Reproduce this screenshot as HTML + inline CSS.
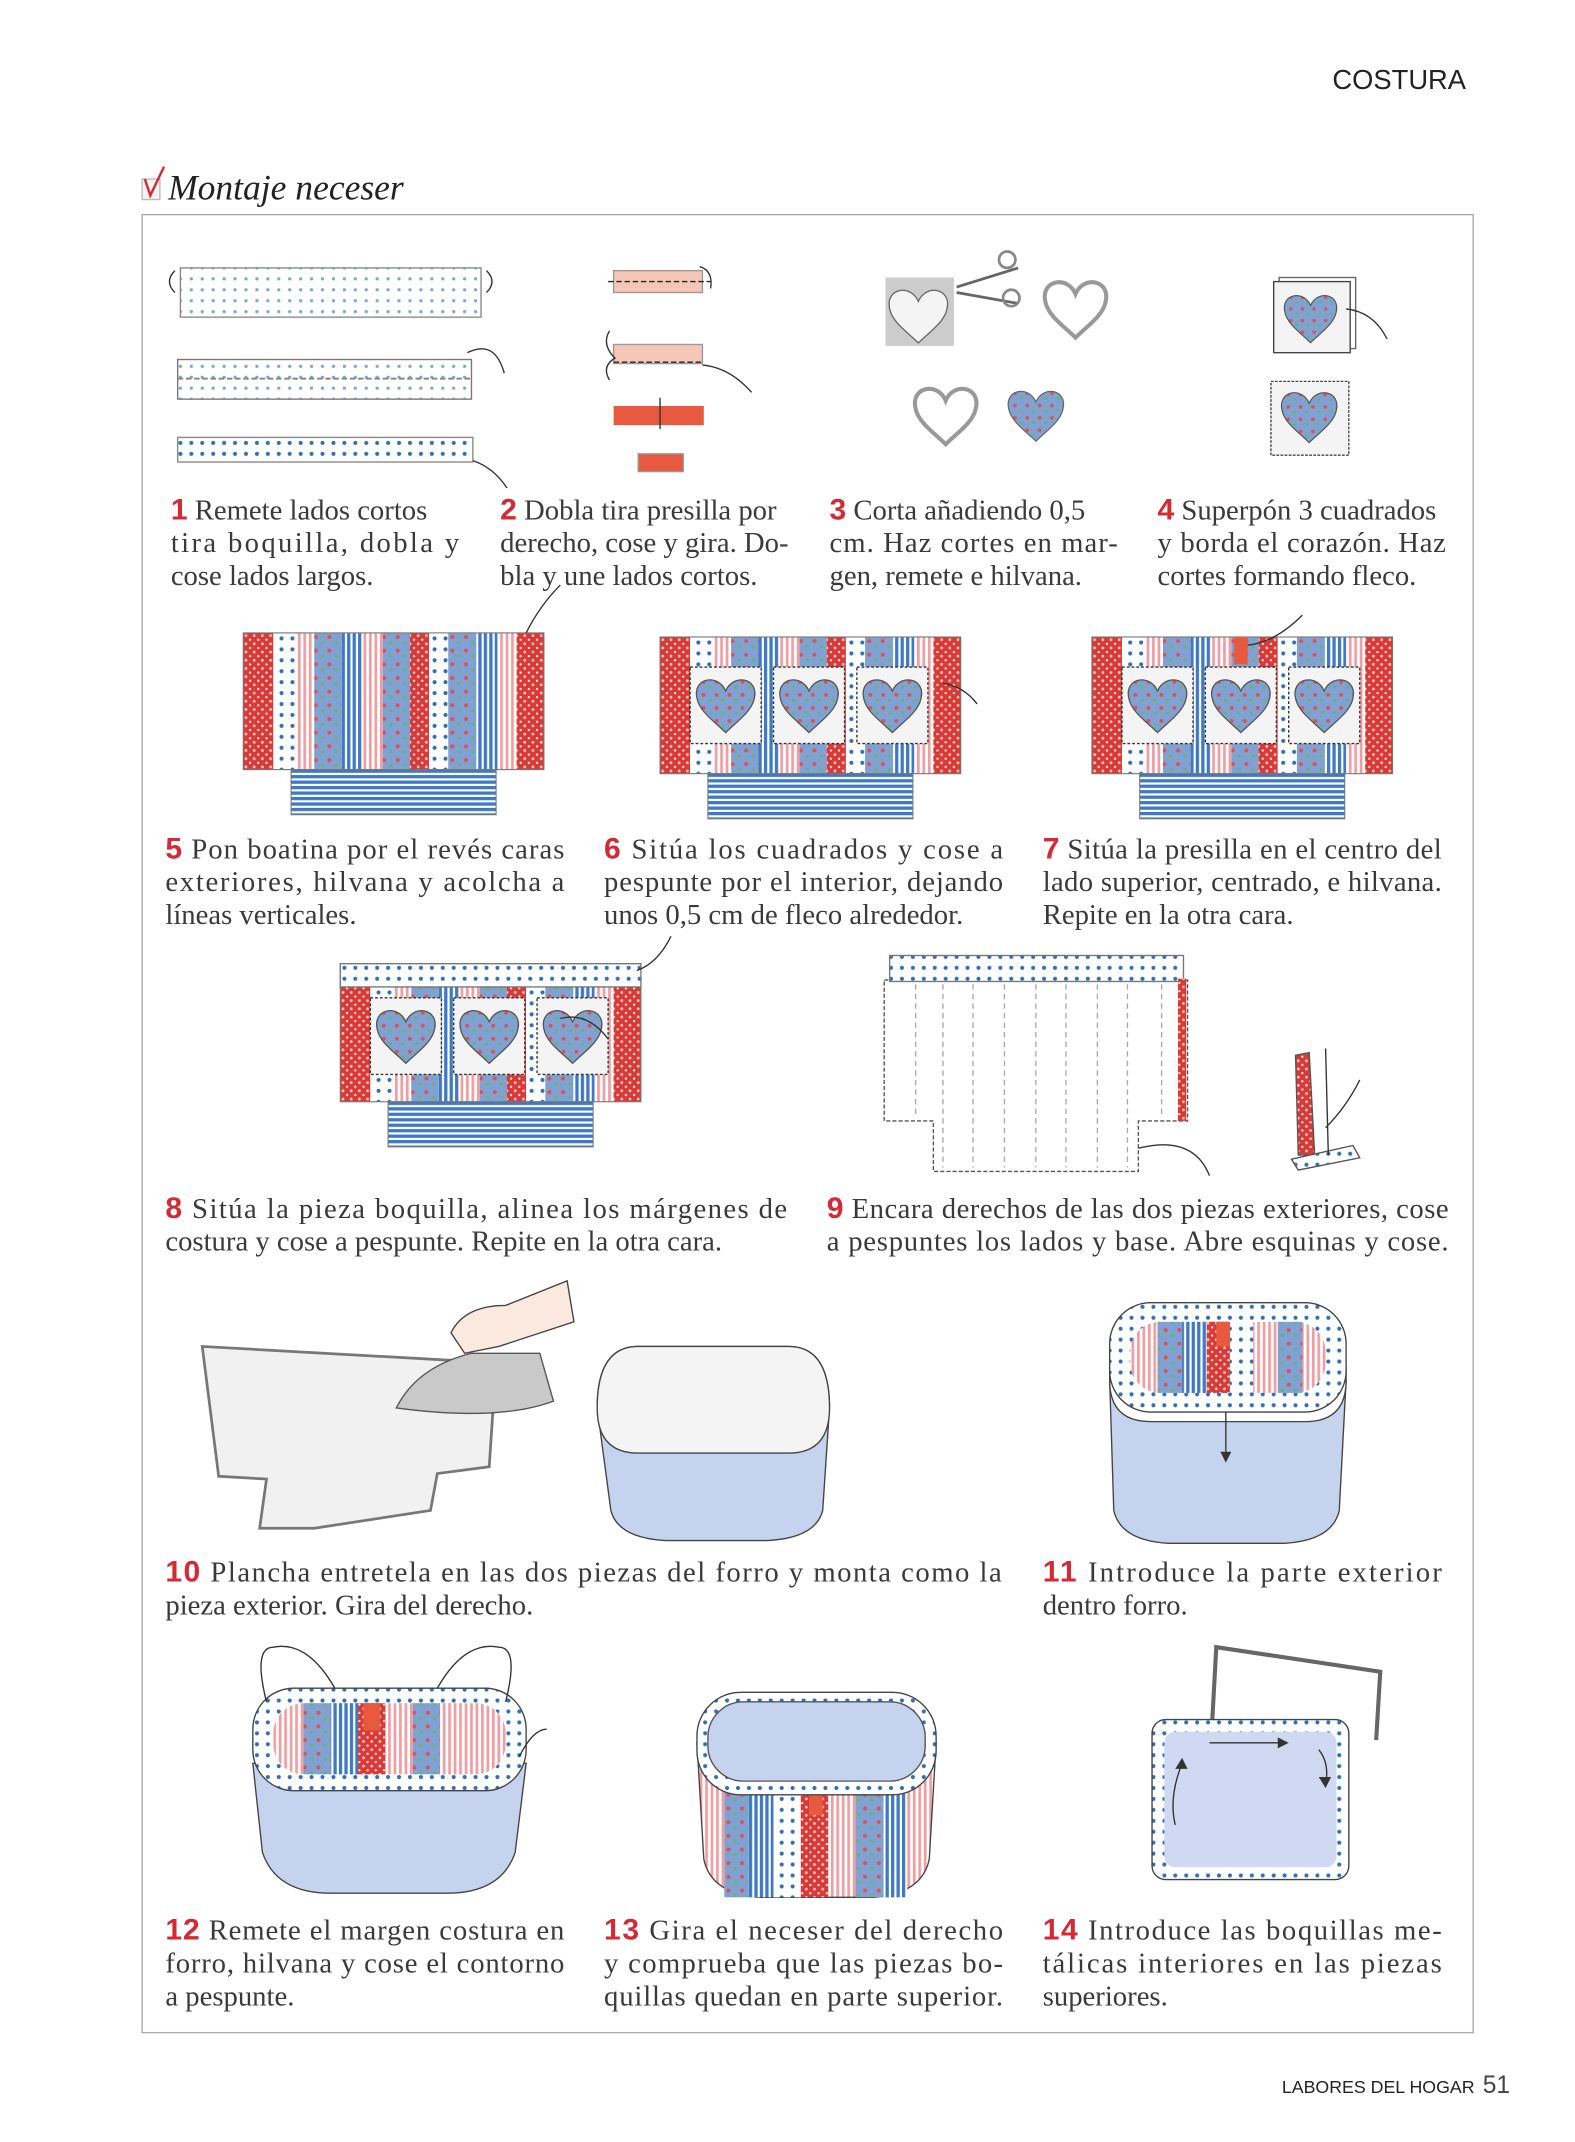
<!DOCTYPE html>
<html><head><meta charset="utf-8"><style>
html,body{margin:0;padding:0;background:#fff;}
svg{display:block;}
.cap{font-family:"Liberation Serif","DejaVu Serif",serif;font-size:21px;fill:#3a3a3a;}
.n{font-family:"Liberation Sans",sans-serif;font-weight:bold;fill:#d42a35;font-size:22px;}
</style></head><body>
<svg width="1575" height="2142" viewBox="0 0 1152.5 1567" preserveAspectRatio="none" xmlns="http://www.w3.org/2000/svg">
<defs>
<pattern id="dots" width="8" height="8" patternUnits="userSpaceOnUse"><rect width="8" height="8" fill="#fff"/><circle cx="4" cy="4" r="1.2" fill="#7aa6d6"/></pattern>
<pattern id="dots2" width="8" height="8" patternUnits="userSpaceOnUse"><rect width="8" height="8" fill="#fff"/><circle cx="4" cy="4" r="1.5" fill="#2f6fb5"/></pattern>
<pattern id="red" width="6" height="6" patternUnits="userSpaceOnUse"><rect width="6" height="6" fill="#d93a38"/><circle cx="2" cy="2" r="1" fill="#f6c6c0"/><circle cx="5" cy="5" r="0.8" fill="#fff"/></pattern>
<pattern id="pink" width="4" height="4" patternUnits="userSpaceOnUse"><rect width="4" height="4" fill="#fff"/><rect width="2" height="4" fill="#ef9ea2"/></pattern>
<pattern id="bflor" width="10" height="10" patternUnits="userSpaceOnUse"><rect width="10" height="10" fill="#7fa2d2"/><circle cx="3" cy="3" r="1.5" fill="#e0504e"/><circle cx="8" cy="7" r="1.2" fill="#6fb06a"/></pattern>
<pattern id="bstr" width="4" height="4" patternUnits="userSpaceOnUse"><rect width="4" height="4" fill="#fff"/><rect width="2.4" height="4" fill="#3f79c4"/></pattern>
<pattern id="hstr" width="4" height="4" patternUnits="userSpaceOnUse"><rect width="4" height="4" fill="#fff"/><rect width="4" height="2.4" fill="#3f79c4"/></pattern>
<path id="heart" d="M0,-10 C-6,-24 -26,-20 -22,-4 C-20,6 -8,14 0,22 C8,14 20,6 22,-4 C26,-20 6,-24 0,-10Z"/>
<g id="panel">
<rect x="0" y="0" width="22" height="100" fill="url(#red)"/>
<rect x="22" y="0" width="16" height="100" fill="url(#dots2)"/>
<rect x="38" y="0" width="14" height="100" fill="url(#pink)"/>
<rect x="52" y="0" width="20" height="100" fill="url(#bflor)"/>
<rect x="72" y="0" width="16" height="100" fill="url(#bstr)"/>
<rect x="88" y="0" width="14" height="100" fill="url(#pink)"/>
<rect x="102" y="0" width="20" height="100" fill="url(#bflor)"/>
<rect x="122" y="0" width="14" height="100" fill="url(#red)"/>
<rect x="136" y="0" width="14" height="100" fill="url(#dots2)"/>
<rect x="150" y="0" width="20" height="100" fill="url(#bflor)"/>
<rect x="170" y="0" width="16" height="100" fill="url(#bstr)"/>
<rect x="186" y="0" width="14" height="100" fill="url(#pink)"/>
<rect x="200" y="0" width="20" height="100" fill="url(#red)"/>
<rect x="0" y="0" width="220" height="100" fill="none" stroke="#777" stroke-width="0.8"/>
<rect x="35" y="100" width="150" height="33" fill="url(#hstr)" stroke="#777" stroke-width="0.8"/>
</g>
<g id="sq">
<rect x="0" y="0" width="52" height="56" fill="#f4f4f4" stroke="#333" stroke-dasharray="2 1.5"/>
<use href="#heart" transform="translate(26,27) scale(0.95)" fill="url(#bflor)" stroke="#555" stroke-width="1"/>
</g>
</defs>

<!-- header -->
<text x="975" y="65" font-family="Liberation Sans,sans-serif" font-size="20" fill="#222">COSTURA</text>
<rect x="104" y="131" width="13" height="15" fill="#f3f3f3" stroke="#bbb"/>
<path d="M106,131 L110,143 L120,122" stroke="#d42a35" stroke-width="1.8" fill="none"/>
<text x="123" y="146" font-family="Liberation Serif,serif" font-style="italic" font-size="26" fill="#222">Montaje neceser</text>
<rect x="104" y="157" width="974" height="1330" fill="none" stroke="#aaa" stroke-width="1"/>

<!-- step 1 -->
<rect x="132" y="196" width="220" height="36" fill="url(#dots)" stroke="#888"/>
<path d="M128,198 q-8,8 0,16 M356,198 q8,8 0,16" stroke="#333" fill="none"/>
<rect x="130" y="263" width="215" height="29" fill="url(#dots)" stroke="#777"/>
<line x1="130" y1="277" x2="345" y2="277" stroke="#888" stroke-dasharray="4 2" stroke-width="1.5"/>
<path d="M342,258 q20,-10 27,15" stroke="#333" fill="none"/>
<rect x="130" y="320" width="216" height="18" fill="url(#dots2)" stroke="#888"/>
<path d="M346,337 q15,5 25,20" stroke="#333" fill="none"/>

<!-- step 2 -->
<rect x="449" y="198" width="65" height="16" fill="#f6c7b7" stroke="#999"/>
<line x1="445" y1="206" x2="520" y2="206" stroke="#222" stroke-dasharray="4 2"/>
<path d="M512,195 q10,3 8,16" stroke="#333" fill="none"/>
<rect x="449" y="252" width="65" height="14" fill="#f6c7b7" stroke="#999"/>
<line x1="449" y1="265" x2="514" y2="265" stroke="#222" stroke-dasharray="4 2"/>
<path d="M446,242 q-6,10 4,20 q-10,6 -4,16 M514,267 q20,2 36,20" stroke="#333" fill="none"/>
<rect x="449" y="297" width="66" height="14" fill="#e85a40"/>
<line x1="483" y1="291" x2="483" y2="314" stroke="#333"/>
<rect x="467" y="332" width="33" height="13" fill="#e85a40" stroke="#999"/>

<!-- step 3 -->
<rect x="648" y="203" width="50" height="50" fill="#ccc"/>
<use href="#heart" transform="translate(672,230) scale(0.95)" fill="#f4f4f4" stroke="#666"/>
<path d="M700,210 L745,196 M700,214 L745,222" stroke="#666" stroke-width="2"/>
<circle cx="737" cy="190" r="6" fill="none" stroke="#888" stroke-width="2"/><circle cx="740" cy="218" r="6" fill="none" stroke="#888" stroke-width="2"/>
<use href="#heart" transform="translate(787,225) scale(1)" fill="#fff" stroke="#999" stroke-width="3"/>
<use href="#heart" transform="translate(692,303) scale(1)" fill="#fff" stroke="#999" stroke-width="3"/>
<use href="#heart" transform="translate(758,303) scale(0.9)" fill="url(#bflor)" stroke="#666"/>

<!-- step 4 -->
<rect x="936" y="203" width="56" height="52" fill="#fff" stroke="#666"/>
<rect x="932" y="206" width="56" height="52" fill="#f4f4f4" stroke="#444"/>
<use href="#heart" transform="translate(959,232) scale(0.85)" fill="url(#bflor)" stroke="#555"/>
<path d="M985,226 q20,2 30,22" stroke="#333" fill="none"/>
<rect x="930" y="279" width="57" height="54" fill="#f4f4f4" stroke="#444" stroke-dasharray="2 1"/>
<use href="#heart" transform="translate(958,304) scale(0.9)" fill="url(#bflor)" stroke="#555"/>

<!-- step 5 -->
<use href="#panel" transform="translate(178,463)"/>
<path d="M385,463 q10,-20 25,-35" stroke="#333" fill="none"/>
<!-- step 6 -->
<use href="#panel" transform="translate(483,466)"/>
<use href="#sq" transform="translate(505,488)"/><use href="#sq" transform="translate(566,488)"/><use href="#sq" transform="translate(627,488)"/>
<path d="M690,500 q15,2 25,15" stroke="#333" fill="none"/>
<!-- step 7 -->
<use href="#panel" transform="translate(799,466)"/>
<use href="#sq" transform="translate(821,488)"/><use href="#sq" transform="translate(882,488)"/><use href="#sq" transform="translate(943,488)"/>
<rect x="903" y="466" width="10" height="20" fill="#e85a40"/>
<path d="M913,472 q20,-2 40,-22" stroke="#333" fill="none"/>
<!-- step 8 -->
<use href="#panel" transform="translate(249,706)"/>
<rect x="249" y="705" width="220" height="17" fill="url(#dots2)" stroke="#777"/>
<use href="#sq" transform="translate(271,730)"/><use href="#sq" transform="translate(332,730)"/><use href="#sq" transform="translate(393,730)"/>
<path d="M466,710 q15,-5 25,-25 M410,745 q20,-5 35,15" stroke="#333" fill="none"/>

<!-- step 9 -->
<path d="M647,717 L869,717 L869,820 L833,820 L833,857 L683,857 L683,820 L647,820 Z" fill="#fff" stroke="#555" stroke-dasharray="3 1.5"/>
<g stroke="#aaa" stroke-dasharray="4 3">
<line x1="670" y1="720" x2="670" y2="817"/><line x1="690" y1="720" x2="690" y2="854"/><line x1="712" y1="720" x2="712" y2="854"/><line x1="735" y1="720" x2="735" y2="854"/><line x1="758" y1="720" x2="758" y2="854"/><line x1="780" y1="720" x2="780" y2="854"/><line x1="803" y1="720" x2="803" y2="854"/><line x1="825" y1="720" x2="825" y2="854"/><line x1="850" y1="720" x2="850" y2="817"/>
</g>
<rect x="651" y="699" width="215" height="19" fill="url(#dots2)" stroke="#777"/>
<rect x="862" y="716" width="6" height="104" fill="url(#red)"/>
<path d="M833,840 q40,-10 52,20" stroke="#333" fill="none"/>
<path d="M948,772 L958,770 L962,845 L950,845 Z" fill="url(#red)" stroke="#555"/>
<path d="M945,848 L990,838 L995,847 L950,856 Z" fill="url(#dots2)" stroke="#555"/>
<path d="M970,767 L972,845 M995,790 q-10,20 -25,35" stroke="#333" fill="none"/>

<!-- step 10 -->
<path d="M148,985 L363,997 L358,1073 L320,1078 L315,1105 L230,1118 L190,1118 L195,1082 L160,1080 Z" fill="#f1f1f1" stroke="#777" stroke-width="2"/>
<path d="M290,1030 q15,-30 55,-40 l50,0 l10,35 q-40,15 -115,5 Z" fill="#c9c9c9" stroke="#555"/>
<path d="M330,975 q10,-20 40,-20 l45,-18 l5,30 l-55,18 l-25,5 z" fill="#fbe8df" stroke="#444"/>
<path d="M437,1030 q0,-45 30,-45 l110,0 q30,0 30,45 l-5,75 q-5,20 -40,22 l-75,0 q-35,-2 -40,-22 z" fill="#c5d3ef" stroke="#444"/>
<path d="M437,1030 q0,-45 30,-45 l110,0 q30,0 30,45 q0,33 -30,33 l-110,0 q-30,0 -30,-33z" fill="#f4f4f4" stroke="#444"/>

<!-- step 11 -->
<path d="M812,1010 l173,0 l-5,95 q-5,22 -40,24 l-85,0 q-35,-2 -40,-24 z" fill="#c5d3ef" stroke="#444"/>
<path d="M812,1010 l0,-10 l173,0 l0,10 q0,30 -30,30 l-113,0 q-30,0 -30,-30z" fill="#fff" stroke="#444"/>
<rect x="812" y="953" width="173" height="80" rx="30" fill="url(#dots2)" stroke="#444"/>
<rect x="827" y="967" width="143" height="52" rx="22" fill="url(#pink)"/>
<rect x="847" y="967" width="18" height="52" fill="url(#bflor)"/><rect x="865" y="967" width="18" height="52" fill="url(#bstr)"/><rect x="883" y="967" width="17" height="52" fill="url(#red)"/><rect x="900" y="967" width="17" height="52" fill="url(#dots2)"/><rect x="935" y="967" width="18" height="52" fill="url(#bflor)"/>
<rect x="890" y="967" width="10" height="18" fill="#e85a40"/>
<line x1="897" y1="1033" x2="897" y2="1068" stroke="#333"/><path d="M893,1062 l4,8 l4,-8z" fill="#333"/>

<!-- step 12 -->
<path d="M185,1290 l200,0 l-8,65 q-10,30 -50,30 l-85,0 q-40,0 -50,-30 z" fill="#c5d3ef" stroke="#444"/>
<rect x="185" y="1235" width="200" height="75" rx="30" fill="url(#dots2)" stroke="#444"/>
<rect x="200" y="1246" width="170" height="52" rx="22" fill="url(#pink)"/>
<rect x="222" y="1246" width="20" height="52" fill="url(#bflor)"/><rect x="242" y="1246" width="20" height="52" fill="url(#bstr)"/><rect x="262" y="1246" width="20" height="52" fill="url(#red)"/><rect x="302" y="1246" width="20" height="52" fill="url(#bflor)"/><rect x="322" y="1246" width="16" height="52" fill="url(#pink)"/>
<rect x="266" y="1246" width="12" height="20" fill="#e85a40"/>
<path d="M195,1245 q-10,-40 5,-40 q25,-5 45,30 M370,1245 q10,-40 -5,-40 q-25,-5 -45,30 M380,1285 q10,-20 20,-20" stroke="#333" fill="none"/>

<!-- step 13 -->
<path d="M510,1275 l175,0 l-5,85 q-5,25 -40,28 l-85,0 q-35,-3 -40,-28 z" fill="url(#pink)" stroke="#444"/>
<rect x="530" y="1300" width="18" height="88" fill="url(#bflor)"/><rect x="548" y="1300" width="18" height="88" fill="url(#bstr)"/><rect x="566" y="1300" width="20" height="88" fill="url(#dots2)"/><rect x="586" y="1300" width="20" height="88" fill="url(#red)"/><rect x="626" y="1300" width="20" height="88" fill="url(#bflor)"/><rect x="646" y="1300" width="18" height="88" fill="url(#bstr)"/>
<rect x="592" y="1310" width="10" height="18" fill="#e85a40"/>
<rect x="510" y="1238" width="175" height="75" rx="32" fill="url(#dots2)" stroke="#444"/>
<rect x="518" y="1245" width="159" height="58" rx="26" fill="#c5d3ef" stroke="#555"/>

<!-- step 14 -->
<path d="M887,1260 l3,-55 l120,18 l-3,50" stroke="#666" stroke-width="3" fill="none"/>
<rect x="843" y="1258" width="144" height="117" rx="10" fill="url(#dots2)" stroke="#444"/>
<rect x="852" y="1267" width="126" height="99" rx="8" fill="#cfdaf2"/>
<path d="M885,1275 l55,0 M860,1335 q-5,-20 5,-45 M965,1280 q8,10 5,25" stroke="#333" fill="none"/>
<path d="M935,1271 l8,4 l-8,4z M965,1300 l5,8 l4,-8z M860,1294 l5,-8 l4,8z" fill="#333"/>

<!-- captions -->
<g class="cap">
<text x="125" y="380"><tspan class="n">1</tspan> Remete lados cortos</text>
<text x="125" y="404" textLength="211" lengthAdjust="spacing">tira boquilla, dobla y</text>
<text x="125" y="428">cose lados largos.</text>
<text x="366" y="380"><tspan class="n">2</tspan> Dobla tira presilla por</text>
<text x="366" y="404" textLength="211" lengthAdjust="spacing">derecho, cose y gira. Do-</text>
<text x="366" y="428">bla y une lados cortos.</text>
<text x="607" y="380"><tspan class="n">3</tspan> Corta añadiendo 0,5</text>
<text x="607" y="404" textLength="211" lengthAdjust="spacing">cm. Haz cortes en mar-</text>
<text x="607" y="428">gen, remete e hilvana.</text>
<text x="847" y="380"><tspan class="n">4</tspan> Superpón 3 cuadrados</text>
<text x="847" y="404" textLength="211" lengthAdjust="spacing">y borda el corazón. Haz</text>
<text x="847" y="428">cortes formando fleco.</text>

<text x="121" y="628" textLength="292" lengthAdjust="spacing"><tspan class="n">5</tspan> Pon boatina por el revés caras</text>
<text x="121" y="652" textLength="292" lengthAdjust="spacing">exteriores, hilvana y acolcha a</text>
<text x="121" y="676">líneas verticales.</text>
<text x="442" y="628" textLength="292" lengthAdjust="spacing"><tspan class="n">6</tspan> Sitúa los cuadrados y cose a</text>
<text x="442" y="652" textLength="292" lengthAdjust="spacing">pespunte por el interior, dejando</text>
<text x="442" y="676">unos 0,5 cm de fleco alrededor.</text>
<text x="763" y="628" textLength="292" lengthAdjust="spacing"><tspan class="n">7</tspan> Sitúa la presilla en el centro del</text>
<text x="763" y="652" textLength="292" lengthAdjust="spacing">lado superior, centrado, e hilvana.</text>
<text x="763" y="676">Repite en la otra cara.</text>

<text x="121" y="891" textLength="455" lengthAdjust="spacing"><tspan class="n">8</tspan> Sitúa la pieza boquilla, alinea los márgenes de</text>
<text x="121" y="915">costura y cose a pespunte. Repite en la otra cara.</text>
<text x="605" y="891" textLength="455" lengthAdjust="spacing"><tspan class="n">9</tspan> Encara derechos de las dos piezas exteriores, cose</text>
<text x="605" y="915" textLength="455" lengthAdjust="spacing">a pespuntes los lados y base. Abre esquinas y cose.</text>

<text x="121" y="1157" textLength="612" lengthAdjust="spacing"><tspan class="n">10</tspan> Plancha entretela en las dos piezas del forro y monta como la</text>
<text x="121" y="1181">pieza exterior. Gira del derecho.</text>
<text x="763" y="1157" textLength="292" lengthAdjust="spacing"><tspan class="n">11</tspan> Introduce la parte exterior</text>
<text x="763" y="1181">dentro forro.</text>

<text x="121" y="1419" textLength="292" lengthAdjust="spacing"><tspan class="n">12</tspan> Remete el margen costura en</text>
<text x="121" y="1443" textLength="292" lengthAdjust="spacing">forro, hilvana y cose el contorno</text>
<text x="121" y="1467">a pespunte.</text>
<text x="442" y="1419" textLength="292" lengthAdjust="spacing"><tspan class="n">13</tspan> Gira el neceser del derecho</text>
<text x="442" y="1443" textLength="292" lengthAdjust="spacing">y comprueba que las piezas bo-</text>
<text x="442" y="1467" textLength="292" lengthAdjust="spacing">quillas quedan en parte superior.</text>
<text x="763" y="1419" textLength="292" lengthAdjust="spacing"><tspan class="n">14</tspan> Introduce las boquillas me-</text>
<text x="763" y="1443" textLength="292" lengthAdjust="spacing">tálicas interiores en las piezas</text>
<text x="763" y="1467">superiores.</text>
</g>

<text x="1079" y="1531" text-anchor="end" font-family="Liberation Sans,sans-serif" font-size="13" fill="#222">LABORES DEL HOGAR</text>
<text x="1085" y="1531" font-family="Liberation Sans,sans-serif" font-size="18" fill="#444">51</text>
</svg>
</body></html>
